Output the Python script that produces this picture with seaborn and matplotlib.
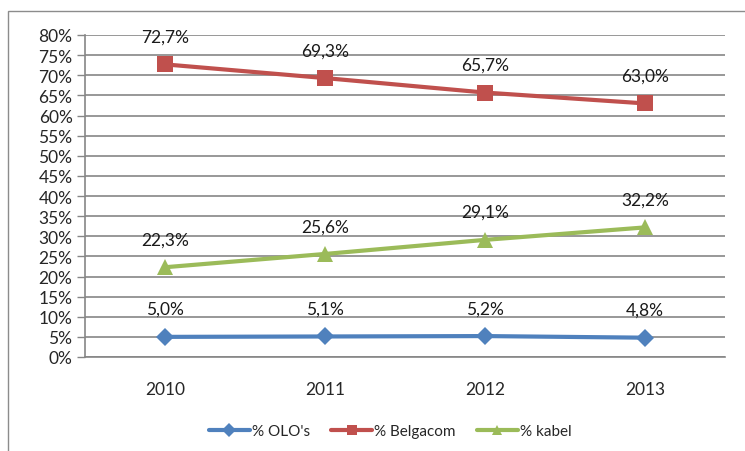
import numpy as np
import pandas as pd
import matplotlib
matplotlib.use("Agg")
import matplotlib.pyplot as plt
from matplotlib.patches import Rectangle
import seaborn as sns

# ---- data ----
years = ["2010", "2011", "2012", "2013"]
olo = [5.0, 5.1, 5.2, 4.8]
belgacom = [72.7, 69.3, 65.7, 63.0]
kabel = [22.3, 25.6, 29.1, 32.2]
series_names = ["% OLO's", "% Belgacom", "% kabel"]
colors = ["#4F81BD", "#C0504D", "#9BBB59"]
markers = ["D", "s", "^"]
msizes = {"% OLO's": 9, "% Belgacom": 11, "% kabel": 11}

df = pd.DataFrame({
    "year": years * 3,
    "pos": list(range(len(years))) * 3,
    "value": olo + belgacom + kabel,
    "series": [series_names[0]] * 4 + [series_names[1]] * 4 + [series_names[2]] * 4,
})

sns.set_style("white")
plt.rcParams["font.family"] = ["Lato", "DejaVu Sans"]

fig = plt.figure(figsize=(7.45, 4.52), dpi=100)
ax = fig.add_axes([85 / 745, 1 - 358 / 452, 640 / 745, 322 / 452])

# chart area border
fig.patches.append(Rectangle((8 / 745, -0.05), 1.1, 1 - 12 / 452 + 0.05,
                             transform=fig.transFigure, fill=False,
                             edgecolor="#8c8c8c", linewidth=1.0))

# one call per series so each marker can have its own size
for name, col, mk in zip(series_names, colors, markers):
    sns.lineplot(data=df[df["series"] == name], x="pos", y="value",
                 color=col, marker=mk, linewidth=3, markersize=msizes[name],
                 markeredgewidth=0, ax=ax, legend=False)

# data labels
for vals in [olo, belgacom, kabel]:
    for i, v in enumerate(vals):
        ax.annotate(f"{v:.1f}%".replace(".", ","), (i, v), xytext=(0, 20),
                    textcoords="offset points", ha="center", va="center",
                    fontsize=12.5, color="#1a1a1a")

ax.set_xlim(-0.5, 3.5)
ax.set_ylim(0, 80)
ax.set_yticks(np.arange(0, 81, 5))
ax.set_yticklabels([f"{t}%" for t in range(0, 81, 5)], fontsize=12.5)
ax.set_xticks(range(len(years)))
ax.set_xticklabels(years, fontsize=12.5)
ax.set_xticks(np.arange(-0.5, 4, 1), minor=True)
ax.tick_params(axis="x", which="major", length=0, pad=17)
ax.tick_params(axis="x", which="minor", length=6, color="#868686", width=1)
ax.tick_params(axis="y", length=6, color="#868686", width=1, pad=3,
               left=True)
ax.grid(axis="y", color="#868686", linewidth=1.2)
ax.set_axisbelow(True)
ax.set_xlabel("")
ax.set_ylabel("")
for s in ["top", "right"]:
    ax.spines[s].set_visible(False)
for s in ["left", "bottom"]:
    ax.spines[s].set_color("#868686")
    ax.spines[s].set_linewidth(1.2)

handles = [plt.Line2D([], [], color=c, marker=m, linewidth=3, markersize=7,
                      markeredgewidth=0) for c, m in zip(colors, markers)]
fig.legend(handles, series_names, loc="center", bbox_to_anchor=(390 / 745, 1 - 432 / 452),
           ncol=3, frameon=False, fontsize=11, handlelength=2.7,
           handletextpad=0.1, columnspacing=1.4)

fig.savefig("out.png", dpi=100)
